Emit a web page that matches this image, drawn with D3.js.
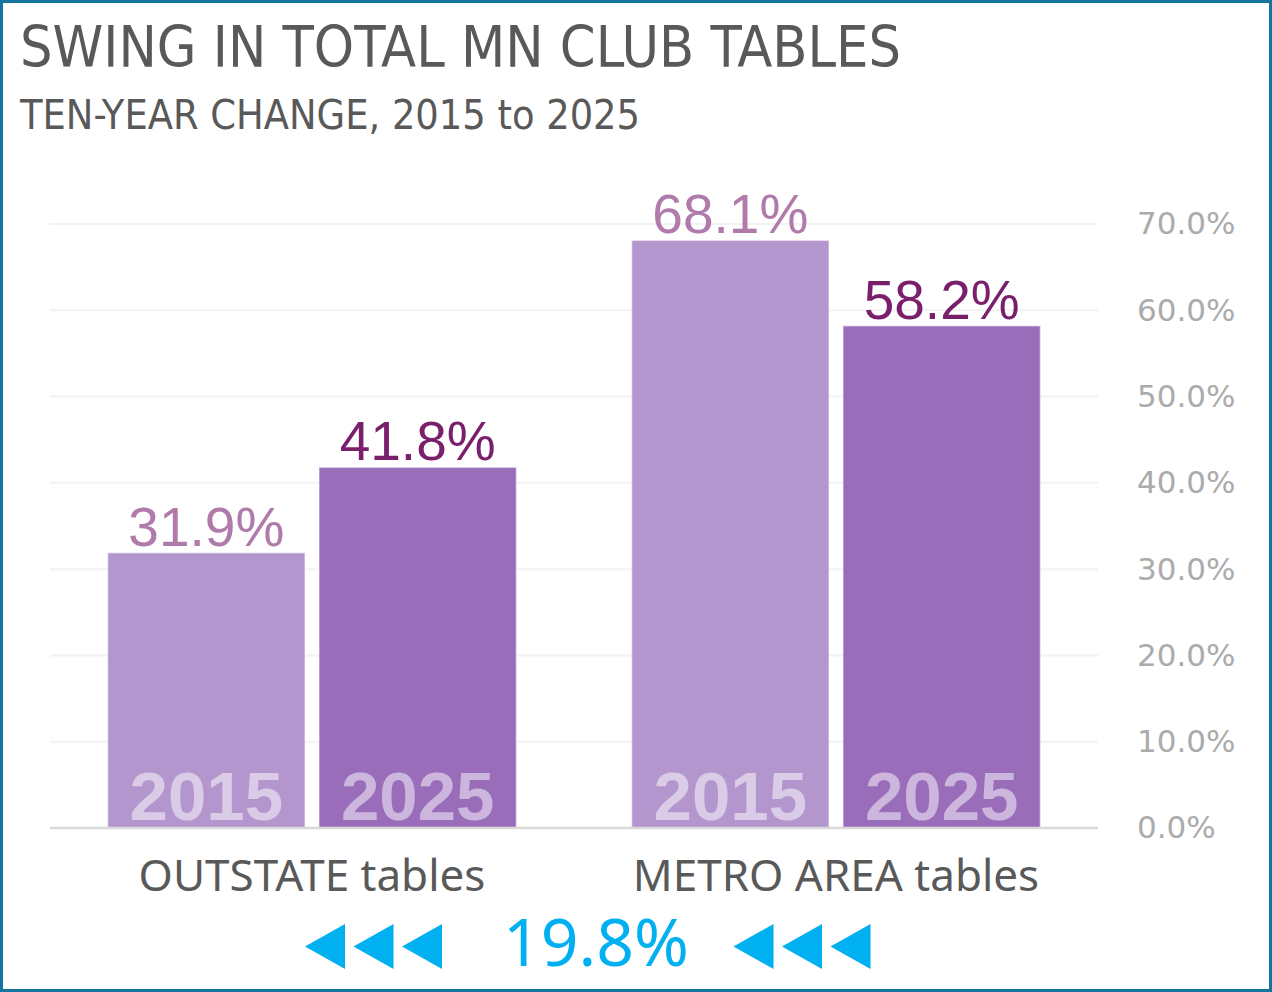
<!DOCTYPE html>
<html>
<head>
<meta charset="utf-8">
<script src="https://cdn.jsdelivr.net/npm/d3@7/dist/d3.min.js"></script>
<style>
  html, body { margin: 0; padding: 0; background: #fff; }
  svg { display: block; }
</style>
</head>
<body>
<svg id="chart" width="1272" height="992"></svg>
<script>
// ---- data ----
const categories = ["OUTSTATE tables", "METRO AREA tables"];
const years = ["2015", "2025"];
const values2015 = [31.9, 68.1];
const values2025 = [41.8, 58.2];
const yTicks = [0, 10, 20, 30, 40, 50, 60, 70];
const titleText = "SWING IN TOTAL MN CLUB TABLES";
const subtitleText = "TEN-YEAR CHANGE, 2015 to 2025";
const swingText = "19.8%";

const W = 1272, H = 992;
const svg = d3.select("#chart");

// border
svg.append("rect").attr("x", 1.5).attr("y", 1.5).attr("width", W - 3).attr("height", H - 3)
  .attr("fill", "#fff").attr("stroke", "#14769f").attr("stroke-width", 3);

// title
svg.append("text").attr("x", 20).attr("y", 67)
  .attr("font-family", "'Liberation Sans Narrow', 'DejaVu Sans Condensed', 'Roboto', sans-serif")
  .attr("font-size", 57).attr("fill", "#595959").text(titleText);
svg.append("text").attr("x", 20).attr("y", 129)
  .attr("font-family", "'Liberation Sans Narrow', 'DejaVu Sans Condensed', 'Roboto', sans-serif")
  .attr("font-size", 41).attr("fill", "#595959").text(subtitleText);

// scales
const plotL = 50, plotR = 1098;
const y = d3.scaleLinear().domain([0, 70]).range([828, 224]);
const x0 = d3.scaleBand().domain(categories).range([plotL, plotR]).paddingInner(0.22).paddingOuter(0.11);
const x1 = d3.scaleBand().domain(years).range([0, x0.bandwidth()]).paddingInner(0.066);

const barColor = { "2015": "#b496ce", "2025": "#9a6dba" };
const labelColor = { "2015": "#b07aaa", "2025": "#7a1f6c" };

// gridlines
svg.append("g").selectAll("line").data(yTicks.filter(d => d > 0)).join("line")
  .attr("x1", plotL).attr("x2", plotR)
  .attr("y1", d => y(d)).attr("y2", d => y(d))
  .attr("stroke", "#f2f2f2").attr("stroke-width", 2);

// y axis on right
const yAxis = d3.axisRight(y).tickValues(yTicks).tickSize(0).tickPadding(39)
  .tickFormat(d => d.toFixed(1) + "%");
const gy = svg.append("g").attr("transform", `translate(${plotR},0)`).call(yAxis);
gy.select(".domain").remove();
gy.selectAll("text").attr("font-family", "'DejaVu Sans', Verdana, sans-serif")
  .attr("font-size", 31).attr("fill", "#ababab");

// rows
const rows = categories.map((c, i) => ({
  cat: c,
  bars: [ { year: "2015", v: values2015[i] }, { year: "2025", v: values2025[i] } ]
}));

const groups = svg.append("g").selectAll("g").data(rows).join("g")
  .attr("transform", d => `translate(${x0(d.cat)},0)`);

groups.selectAll("rect").data(d => d.bars).join("rect")
  .attr("x", d => x1(d.year)).attr("width", x1.bandwidth())
  .attr("y", d => y(d.v)).attr("height", d => y(0) - y(d.v))
  .attr("fill", d => barColor[d.year])
  .attr("stroke", "rgba(255,255,255,0.45)").attr("stroke-width", 1.5);

// year labels inside bars
groups.selectAll("text.yr").data(d => d.bars).join("text").attr("class", "yr")
  .attr("x", d => x1(d.year) + x1.bandwidth() / 2).attr("y", y(0) - 8)
  .attr("text-anchor", "middle")
  .attr("font-family", "'Liberation Sans', Arial, sans-serif").attr("font-weight", "bold")
  .attr("font-size", 69).attr("fill", "#ffffff").attr("fill-opacity", 0.5)
  .text(d => d.year);

// value labels
groups.selectAll("text.val").data(d => d.bars).join("text").attr("class", "val")
  .attr("x", d => x1(d.year) + x1.bandwidth() / 2).attr("y", d => y(d.v) - 7)
  .attr("text-anchor", "middle")
  .attr("font-family", "'Liberation Sans', Arial, sans-serif")
  .attr("font-size", 55).attr("fill", d => labelColor[d.year])
  .text(d => d.v.toFixed(1) + "%");

// zero line
svg.append("line").attr("x1", plotL).attr("x2", plotR).attr("y1", y(0)).attr("y2", y(0))
  .attr("stroke", "#d9d9d9").attr("stroke-width", 2.5);

// category labels
svg.append("g").selectAll("text").data(categories).join("text")
  .attr("x", d => x0(d) + x0.bandwidth() / 2).attr("y", 891)
  .attr("text-anchor", "middle")
  .attr("font-family", "'Noto Sans', 'Open Sans', sans-serif")
  .attr("font-size", 44).attr("fill", "#595959")
  .text(d => d);

// swing label with arrows
const cyan = "#00b0f0";
const midX = (x0(categories[0]) + x0.bandwidth() / 2 + x0(categories[1]) + x0.bandwidth() / 2) / 2;
svg.append("text").attr("x", midX + 22).attr("y", 966).attr("text-anchor", "middle")
  .attr("font-family", "'Noto Sans', 'Open Sans', sans-serif")
  .attr("font-size", 66).attr("fill", cyan).text(swingText);

const triW = 40, triH = 45, triStep = 48.5, triTop = 924;
const groupStarts = [305, 733.5];
const tris = [];
groupStarts.forEach(s => { for (let k = 0; k < 3; k++) tris.push(s + k * triStep); });
svg.append("g").selectAll("path").data(tris).join("path")
  .attr("d", s => `M${s},${triTop + triH / 2} L${s + triW},${triTop} L${s + triW},${triTop + triH} Z`)
  .attr("fill", cyan);
</script>
</body>
</html>
